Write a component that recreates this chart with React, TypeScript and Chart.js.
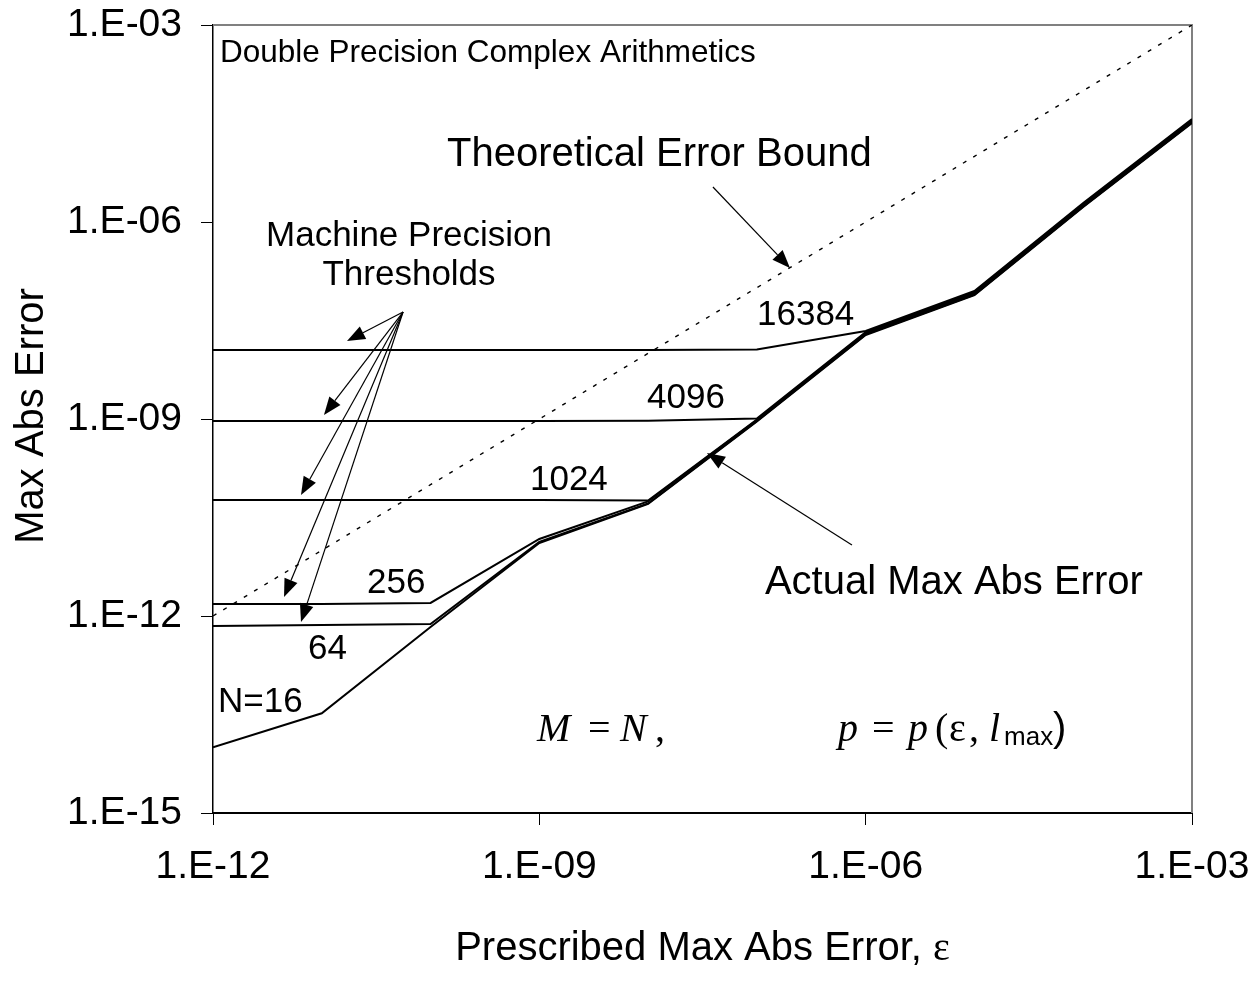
import React, { useEffect, useRef } from 'react';
import { Chart, registerables } from 'chart.js';

Chart.register(...registerables);

const SANS = "'Liberation Sans', Arial, sans-serif";
const SERIF = "'Liberation Serif', 'Times New Roman', serif";

// Prescribed max abs error (x)
const EPS = [1e-12, 1e-11, 1e-10, 1e-9, 1e-8, 1e-7, 1e-6, 1e-5, 1e-4, 1e-3];

// Actual max abs error for each N
const ERR_N16 = [1.0e-14, 3.3e-14, 6.8e-13, 1.29e-11, 5.08e-11, 9.16e-10, 1.9e-8, 7.73e-8, 1.69e-6, 3.22e-5];
const ERR_N64 = [7.05e-13, 7.3e-13, 7.55e-13, 1.34e-11, 5.17e-11, 9.33e-10, 1.94e-8, 7.87e-8, 1.72e-6, 3.28e-5];
const ERR_N256 = [1.52e-12, 1.52e-12, 1.58e-12, 1.49e-11, 5.55e-11, 9.66e-10, 2.01e-8, 8.15e-8, 1.78e-6, 3.39e-5];
const ERR_N1024 = [5.85e-11, 5.85e-11, 5.85e-11, 5.85e-11, 5.75e-11, 9.83e-10, 2.04e-8, 8.3e-8, 1.82e-6, 3.45e-5];
const ERR_N4096 = [9.33e-10, 9.33e-10, 9.33e-10, 9.33e-10, 9.4e-10, 1.02e-9, 2.11e-8, 8.59e-8, 1.88e-6, 3.57e-5];
const ERR_N16384 = [1.12e-8, 1.12e-8, 1.12e-8, 1.12e-8, 1.12e-8, 1.14e-8, 2.19e-8, 8.89e-8, 1.95e-6, 3.7e-5];

// Theoretical error bound
const BOUND = [1e-12, 1e-11, 1e-10, 1e-9, 1e-8, 1e-7, 1e-6, 1e-5, 1e-4, 1e-3];

const SERIES_NAMES = ['N=16', 'N=64', 'N=256', 'N=1024', 'N=4096', 'N=16384'];
const SERIES_VALUES = [ERR_N16, ERR_N64, ERR_N256, ERR_N1024, ERR_N4096, ERR_N16384];

const X_TICK_VALUES = [1e-12, 1e-9, 1e-6, 1e-3];
const X_TICK_LABELS = ['1.E-12', '1.E-09', '1.E-06', '1.E-03'];
const Y_TICK_VALUES = [1e-15, 1e-12, 1e-9, 1e-6, 1e-3];
const Y_TICK_LABELS = ['1.E-15', '1.E-12', '1.E-09', '1.E-06', '1.E-03'];

const X_TITLE = 'Prescribed Max Abs Error, ';
const X_TITLE_SYMBOL = 'ε';
const Y_TITLE = 'Max Abs Error';

// Annotations, anchored in log10 data units
const NOTES = [
  { text: 'Double Precision Complex Arithmetics', lx: -11.936, ly: -3.563, size: 31.5, align: 'left' },
  { text: 'Theoretical Error Bound', lx: -9.849, ly: -5.147, size: 40, align: 'left' },
  { text: 'Machine Precision', lx: -10.198, ly: -6.365, size: 35, align: 'center' },
  { text: 'Thresholds', lx: -10.198, ly: -6.959, size: 35, align: 'center' },
  { text: '16384', lx: -6.999, ly: -7.569, size: 35, align: 'left' },
  { text: '4096', lx: -8.01, ly: -8.832, size: 35, align: 'left' },
  { text: '1024', lx: -9.086, ly: -10.081, size: 35, align: 'left' },
  { text: '256', lx: -10.584, ly: -11.65, size: 35, align: 'left' },
  { text: '64', lx: -11.127, ly: -12.655, size: 35, align: 'left' },
  { text: 'N=16', lx: -11.954, ly: -13.462, size: 35, align: 'left' },
  { text: 'Actual Max Abs Error', lx: -6.926, ly: -11.66, size: 40, align: 'left' },
];

const ARROWS = [
  { from: [-7.404, -5.467], to: [-6.696, -6.7] },
  { from: [-6.126, -10.919], to: [-7.459, -9.518] },
  { from: [-10.253, -7.371], to: [-10.768, -7.812] },
  { from: [-10.253, -7.371], to: [-10.98, -8.939] },
  { from: [-10.253, -7.371], to: [-11.191, -10.157] },
  { from: [-10.253, -7.371], to: [-11.347, -11.711] },
  { from: [-10.253, -7.371], to: [-11.191, -12.091] },
];

type Part = { t: string; dx: number; dy?: number; family: string; style?: string; size: number };
const MATH = [
  {
    lx: -9.022,
    ly: -13.903,
    parts: [
      { t: 'M', dx: 0, family: SERIF, style: 'italic', size: 40 },
      { t: '=', dx: 51, family: SERIF, size: 40 },
      { t: 'N', dx: 83, family: SERIF, style: 'italic', size: 40 },
      { t: ',', dx: 118, family: SERIF, size: 40 },
    ] as Part[],
  },
  {
    lx: -6.254,
    ly: -13.903,
    parts: [
      { t: 'p', dx: 0, family: SERIF, style: 'italic', size: 40 },
      { t: '=', dx: 34, family: SERIF, size: 40 },
      { t: 'p', dx: 70, family: SERIF, style: 'italic', size: 40 },
      { t: '(', dx: 97, family: SERIF, size: 40 },
      { t: 'ε', dx: 111, family: SERIF, size: 40 },
      { t: ',', dx: 131, family: SERIF, size: 40 },
      { t: 'l', dx: 151, family: SERIF, style: 'italic', size: 40 },
      { t: 'max', dx: 166, dy: 4, family: SANS, size: 26 },
      { t: ')', dx: 215, family: SANS, size: 40 },
    ] as Part[],
  },
];

function drawArrow(ctx: CanvasRenderingContext2D, x1: number, y1: number, x2: number, y2: number) {
  const len = 18;
  const half = 7;
  const ang = Math.atan2(y2 - y1, x2 - x1);
  const bx = x2 - len * Math.cos(ang);
  const by = y2 - len * Math.sin(ang);
  ctx.beginPath();
  ctx.moveTo(x1, y1);
  ctx.lineTo(bx, by);
  ctx.stroke();
  ctx.beginPath();
  ctx.moveTo(x2, y2);
  ctx.lineTo(bx + half * Math.sin(ang), by - half * Math.cos(ang));
  ctx.lineTo(bx - half * Math.sin(ang), by + half * Math.cos(ang));
  ctx.closePath();
  ctx.fill();
}

const notesPlugin = {
  id: 'notes',
  beforeDatasetsDraw(chart: any) {
    const { ctx, chartArea: a } = chart;
    ctx.save();
    ctx.strokeStyle = '#808080';
    ctx.lineWidth = 2;
    ctx.beginPath();
    ctx.moveTo(a.left + 1, a.top);
    ctx.lineTo(a.right, a.top);
    ctx.lineTo(a.right, a.bottom);
    ctx.stroke();
    ctx.restore();
  },
  afterDraw(chart: any) {
    const { ctx, chartArea: a } = chart;
    const sx = chart.scales.x;
    const sy = chart.scales.y;
    const px = (lx: number) => sx.getPixelForValue(Math.pow(10, lx));
    const py = (ly: number) => sy.getPixelForValue(Math.pow(10, ly));
    ctx.save();
    ctx.fillStyle = '#000';
    ctx.strokeStyle = '#000';
    ctx.textBaseline = 'alphabetic';

    NOTES.forEach((n) => {
      ctx.font = `${n.size}px ${SANS}`;
      ctx.textAlign = n.align as CanvasTextAlign;
      ctx.fillText(n.text, px(n.lx), py(n.ly));
    });

    ctx.lineWidth = 1.2;
    ARROWS.forEach((ar) => {
      drawArrow(ctx, px(ar.from[0]), py(ar.from[1]), px(ar.to[0]), py(ar.to[1]));
    });

    ctx.textAlign = 'left';
    MATH.forEach((m) => {
      const x0 = px(m.lx);
      const y0 = py(m.ly);
      m.parts.forEach((p) => {
        ctx.font = `${p.style ? p.style + ' ' : ''}${p.size}px ${p.family}`;
        ctx.fillText(p.t, x0 + p.dx, y0 + (p.dy || 0));
      });
    });

    // x axis title
    ctx.font = `40px ${SANS}`;
    const w1 = ctx.measureText(X_TITLE).width;
    ctx.font = `40px ${SERIF}`;
    const w2 = ctx.measureText(X_TITLE_SYMBOL).width;
    const cx = (a.left + a.right) / 2;
    const start = cx - (w1 + w2) / 2;
    const ty = a.bottom + 147;
    ctx.font = `40px ${SANS}`;
    ctx.fillText(X_TITLE, start, ty);
    ctx.font = `40px ${SERIF}`;
    ctx.fillText(X_TITLE_SYMBOL, start + w1, ty);

    // y axis title
    ctx.save();
    ctx.translate(43, (a.top + a.bottom) / 2 - 3);
    ctx.rotate(-Math.PI / 2);
    ctx.font = `40px ${SANS}`;
    ctx.textAlign = 'center';
    ctx.fillText(Y_TITLE, 0, 0);
    ctx.restore();

    ctx.restore();
  },
};

export default function App() {
  const ref = useRef<HTMLCanvasElement | null>(null);

  useEffect(() => {
    if (!ref.current) return;
    const datasets: any[] = SERIES_VALUES.map((vals, i) => ({
      label: SERIES_NAMES[i],
      data: EPS.map((x, j) => ({ x, y: vals[j] })),
      borderColor: '#000',
      borderWidth: 2,
      pointRadius: 0,
      tension: 0,
      fill: false,
    }));
    datasets.push({
      label: 'Theoretical Error Bound',
      data: EPS.map((x, j) => ({ x, y: BOUND[j] })),
      borderColor: '#000',
      borderWidth: 1.4,
      borderDash: [4, 8],
      pointRadius: 0,
      tension: 0,
      fill: false,
    });

    const chart = new Chart(ref.current, {
      type: 'line',
      data: { datasets },
      plugins: [notesPlugin],
      options: {
        responsive: false,
        animation: false,
        devicePixelRatio: 1,
        layout: { padding: { left: 0, right: 63, top: 25, bottom: 0 } },
        plugins: { legend: { display: false }, tooltip: { enabled: false } },
        scales: {
          x: {
            type: 'logarithmic',
            min: 1e-12,
            max: 1e-3,
            position: 'bottom',
            afterFit: (s: any) => {
              s.height = 185;
              s.paddingLeft = 0;
              s.paddingRight = 0;
            },
            afterBuildTicks: (s: any) => {
              s.ticks = X_TICK_VALUES.map((v) => ({ value: v }));
            },
            grid: { drawOnChartArea: false, drawTicks: true, tickLength: 12, color: '#000', lineWidth: 1 },
            border: { display: true, color: '#000', width: 2 },
            ticks: {
              autoSkip: false,
              maxRotation: 0,
              padding: 19,
              color: '#000',
              font: { family: SANS, size: 39 },
              callback: (_v: any, i: number) => X_TICK_LABELS[i],
            },
          },
          y: {
            type: 'logarithmic',
            min: 1e-15,
            max: 1e-3,
            position: 'left',
            afterFit: (s: any) => {
              s.width = 213;
              s.paddingTop = 0;
              s.paddingBottom = 0;
            },
            afterBuildTicks: (s: any) => {
              s.ticks = Y_TICK_VALUES.map((v) => ({ value: v }));
            },
            grid: { drawOnChartArea: false, drawTicks: true, tickLength: 12, color: '#000', lineWidth: 1 },
            border: { display: true, color: '#000', width: 1.5 },
            ticks: {
              autoSkip: false,
              padding: 19,
              color: '#000',
              font: { family: SANS, size: 39 },
              callback: (_v: any, i: number) => Y_TICK_LABELS[i],
            },
          },
        },
      } as any,
    });
    return () => chart.destroy();
  }, []);

  return (
    <div style={{ position: 'absolute', left: 0, top: 0, width: 1255, height: 998, background: '#fff' }}>
      <canvas ref={ref} width={1255} height={998} />
    </div>
  );
}
